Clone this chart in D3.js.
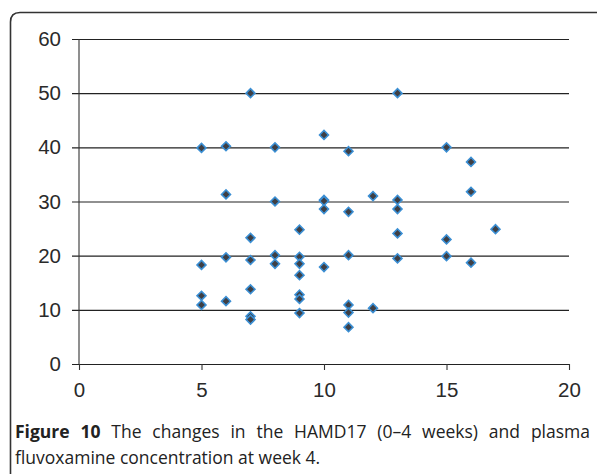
<!DOCTYPE html>
<html>
<head>
<meta charset="utf-8">
<script src="https://cdn.jsdelivr.net/npm/d3@7"></script>
<style>
  html, body { margin: 0; padding: 0; background: #fff; }
  svg { display: block; }
</style>
</head>
<body>
<svg id="chart" width="597" height="474"></svg>
<script>
// Plasma fluvoxamine concentration (x) vs. change in HAMD17 score (y)
const concentration = [
  5, 5, 5, 5,
  6, 6, 6, 6,
  7, 7, 7, 7, 7, 7,
  8, 8, 8, 8,
  9, 9, 9, 9, 9, 9, 9,
  10, 10, 10, 10, 10,
  11, 11, 11, 11, 11, 11,
  12, 12,
  13, 13, 13, 13, 13,
  15, 15, 15,
  16, 16, 16,
  17
];
const hamdChange = [
  39.9, 18.3, 12.6, 10.9,
  40.2, 31.3, 19.7, 11.6,
  50, 23.3, 19.2, 13.8, 8.8, 8.2,
  40, 30, 20.1, 18.5,
  24.8, 19.8, 18.5, 16.4, 12.8, 12.0, 9.4,
  42.3, 30.3, 28.6, 17.9, 30.1,
  39.3, 28.1, 20.1, 10.9, 9.5, 6.8,
  31, 10.3,
  50, 30.3, 28.6, 24.1, 19.5,
  40, 23, 19.9,
  37.3, 31.8, 18.7,
  24.9
];
const xTicks = [0, 5, 10, 15, 20];
const yTicks = [0, 10, 20, 30, 40, 50, 60];
const captionBold = "Figure 10";
const captionLine1 = " The changes in the HAMD17 (0\u20134 weeks) and plasma";
const captionLine2 = "fluvoxamine concentration at week 4.";

const svg = d3.select("#chart");

// Rounded panel frame
svg.append("path")
  .attr("d", "M10.5,480 L10.5,22 Q10.5,12.5 20,12.5 L610,12.5")
  .attr("fill", "none")
  .attr("stroke", "#333")
  .attr("stroke-width", 1.6);

const plotLeft = 79, plotRight = 569, plotTop = 39, plotBottom = 364;
const x = d3.scaleLinear().domain([0, 20]).range([plotLeft, plotRight]);
const y = d3.scaleLinear().domain([0, 60]).range([plotBottom, plotTop]);

// Horizontal gridlines with left ticks and labels
const yAxis = d3.axisLeft(y).tickValues(yTicks).tickSize(-(plotRight - plotLeft)).tickSizeOuter(0).tickPadding(18);
const gy = svg.append("g").attr("transform", `translate(${plotLeft},0)`).call(yAxis);
gy.select(".domain").remove();
gy.selectAll(".tick line")
  .attr("x1", -7)
  .attr("stroke", "#222")
  .attr("stroke-width", 1.1);
gy.selectAll(".tick text")
  .attr("font-family", "Liberation Sans, Arial, sans-serif")
  .attr("font-size", 20.5)
  .attr("fill", "#2a2a2a");

// Vertical axis line
svg.append("line")
  .attr("x1", plotLeft).attr("x2", plotLeft)
  .attr("y1", plotTop).attr("y2", plotBottom)
  .attr("stroke", "#333").attr("stroke-width", 1.1);

// Bottom axis ticks and labels
const xAxis = d3.axisBottom(x).tickValues(xTicks).tickSize(6).tickSizeOuter(0).tickPadding(12);
const gx = svg.append("g").attr("transform", `translate(0,${plotBottom})`).call(xAxis);
gx.select(".domain").remove();
gx.selectAll(".tick line").attr("stroke", "#333").attr("stroke-width", 1.1);
gx.selectAll(".tick text")
  .attr("font-family", "Liberation Sans, Arial, sans-serif")
  .attr("font-size", 20.5)
  .attr("fill", "#2a2a2a");

// Data points: dark diamonds with a blue rim
const points = concentration.map((c, i) => ({ c, h: hamdChange[i] }));
const diamond = d3.symbol().type(d3.symbolSquare).size(40);
svg.append("g").selectAll("path")
  .data(points)
  .join("path")
  .attr("d", diamond)
  .attr("transform", d => `translate(${x(d.c)},${y(d.h)}) rotate(45)`)
  .attr("fill", "#3f3f44")
  .attr("stroke", "#3b8fd4")
  .attr("stroke-width", 1.6);

// Caption: first line justified to the panel width through word spacing
const capWidth = 575;
const cap = svg.append("text")
  .attr("x", 15).attr("y", 438)
  .attr("font-family", "Open Sans, sans-serif")
  .attr("font-size", 17.5)
  .attr("fill", "#222");
cap.append("tspan").attr("font-weight", "bold").text(captionBold);
cap.append("tspan").text(captionLine1);
const natural = cap.node().getComputedTextLength();
const gaps = (captionBold + captionLine1).split(" ").length - 1;
if (natural < capWidth && gaps > 0) {
  cap.attr("word-spacing", (capWidth - natural) / gaps);
}
svg.append("text")
  .attr("x", 15).attr("y", 464)
  .attr("font-family", "Open Sans, sans-serif")
  .attr("font-size", 17.5)
  .attr("fill", "#222")
  .text(captionLine2);
</script>
</body>
</html>
